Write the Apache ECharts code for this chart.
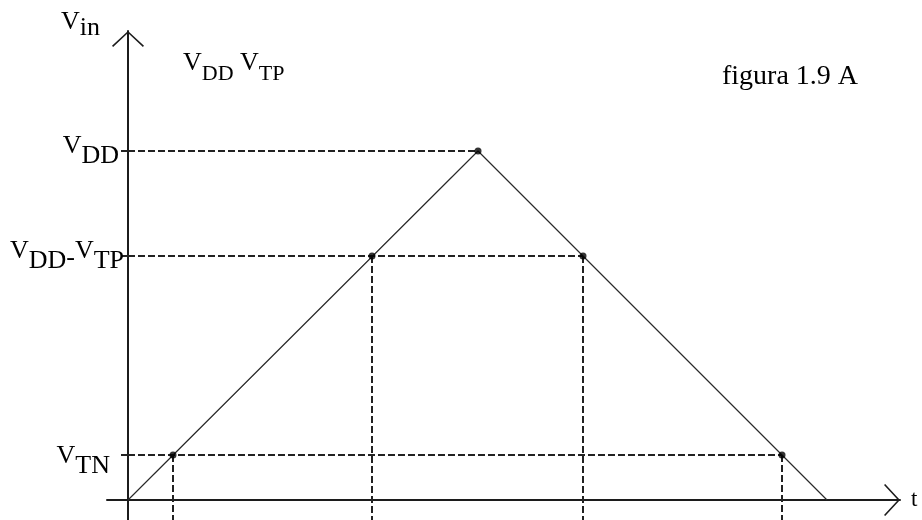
<!DOCTYPE html>
<html>
<head>
<meta charset="utf-8">
<title>figura 1.9 A</title>
<script src="https://cdn.jsdelivr.net/npm/echarts@6/dist/echarts.min.js"></script>
<style>
  html, body { margin: 0; padding: 0; background: #fff; }
  #main { width: 922px; height: 520px; }
</style>
</head>
<body>
<div id="main"></div>
<script>
// input ramp: V_in rises from 0 to V_DD and falls back to 0
var rampT = [0, 350, 699];
var rampV = [0, 349, 0];

// levels on the V_in axis
var levelValues = [45, 244, 349];
var levelLabels = ['{vLow|V}{sLow|TN}', '{v|V}{s|DD}{h|-}{v|V}{s|TP}', '{v|V}{sEnd|DD}'];

// points where the ramp crosses each level
var markT = [45, 244, 350, 455, 654];
var markV = [45, 244, 349, 244, 45];

var xMin = -21, xMax = 772;
var yMin = -20, yMax = 469;

var font = 'Liberation Serif';
var ink = '#1c1c1c';

function txt(size, pad) {
  return {
    fontFamily: font, fontSize: size, color: '#000', fontWeight: 'normal',
    lineHeight: size, verticalAlign: 'top', padding: pad || [0, 0, 0, 0]
  };
}

var rich = {
  v: txt(26),
  s: txt(26, [10, 0, 0, 0]),
  h: txt(26, [7, 0, 0, 0]),
  sEnd: txt(26, [10, 5, 0, 0]),
  vLow: txt(26, [6, 0, 0, 0]),
  sLow: txt(26, [16, 14, 0, 0]),
  si: txt(26, [6, 0, 0, 0]),
  st: txt(22, [13, 0, 0, 0])
};

var arrow = 'path://M16,0L32,14.8L30.9,16L16,2.1L1.1,16L0,14.8Z';

var chart = echarts.init(document.getElementById('main'));

// dashed guides
var dashed = { color: '#222', width: 2, type: [7, 3] };
var guideSeries = [];
var peakV = Math.max.apply(null, markV);
levelValues.forEach(function (lv) {
  var far = 0;
  for (var i = 0; i < markT.length; i++) {
    if (markV[i] === lv && markT[i] > far) far = markT[i];
  }
  guideSeries.push({
    type: 'line', data: [[0, lv], [far, lv]], symbol: 'none',
    lineStyle: dashed, silent: true, z: 1
  });
});
for (var i = 0; i < markT.length; i++) {
  if (markV[i] === peakV) continue;
  guideSeries.push({
    type: 'line', data: [[markT[i], markV[i]], [markT[i], yMin]], symbol: 'none',
    lineStyle: dashed, silent: true, z: 1
  });
}

var rampData = rampT.map(function (t, i) { return [t, rampV[i]]; });
var markData = markT.map(function (t, i) { return [t, markV[i]]; });

chart.setOption({
  animation: false,
  backgroundColor: '#fff',
  title: [
    {
      text: '{v|V}{st|DD} {v|V}{st|TP}',
      left: 183, top: 50, padding: 0,
      textStyle: { fontFamily: font, fontSize: 26, fontWeight: 'normal', color: '#000', rich: rich }
    },
    {
      text: 'figura 1.9 A',
      left: 722, top: 63, padding: 0,
      textStyle: { fontFamily: font, fontSize: 28, fontWeight: 'normal', color: '#000' }
    }
  ],
  grid: { left: 107, right: 22, top: 31, bottom: 0, containLabel: false, outerBoundsMode: 'none' },
  xAxis: {
    type: 'value', min: xMin, max: xMax,
    name: 't', nameLocation: 'end', nameGap: 11,
    nameTextStyle: { fontFamily: font, fontSize: 23, color: '#000', verticalAlign: 'middle', padding: [3, 0, 0, 0] },
    axisLine: {
      onZero: true,
      lineStyle: { color: ink, width: 2 },
      symbol: ['none', arrow], symbolSize: [32, 16], symbolOffset: [0, -8]
    },
    axisTick: { show: false },
    axisLabel: { show: false },
    splitLine: { show: false }
  },
  yAxis: {
    type: 'value', min: yMin, max: yMax,
    name: '{v|V}{si|in}', nameLocation: 'end', nameGap: -4,
    nameTextStyle: { align: 'right', verticalAlign: 'bottom', padding: [0, 28, 0, 0], rich: rich },
    axisLine: {
      onZero: true,
      lineStyle: { color: ink, width: 2 },
      symbol: ['none', arrow], symbolSize: [32, 16], symbolOffset: [0, -8]
    },
    axisTick: {
      show: true, customValues: levelValues, length: 7,
      lineStyle: { color: '#222', width: 2 }
    },
    axisLabel: {
      show: true, customValues: levelValues, margin: -17, padding: [0, 0, 10, 0],
      formatter: function (val) {
        var k = levelValues.indexOf(val);
        return k < 0 ? '' : levelLabels[k];
      },
      rich: rich
    },
    splitLine: { show: false }
  },
  series: guideSeries.concat([
    {
      type: 'line', data: rampData, symbol: 'none', silent: true, z: 3,
      lineStyle: { color: '#2a2a2a', width: 1.2 }
    },
    {
      type: 'scatter', data: markData, symbol: 'circle', symbolSize: 7, silent: true, z: 4,
      itemStyle: { color: '#000' }
    }
  ])
});
</script>
</body>
</html>
